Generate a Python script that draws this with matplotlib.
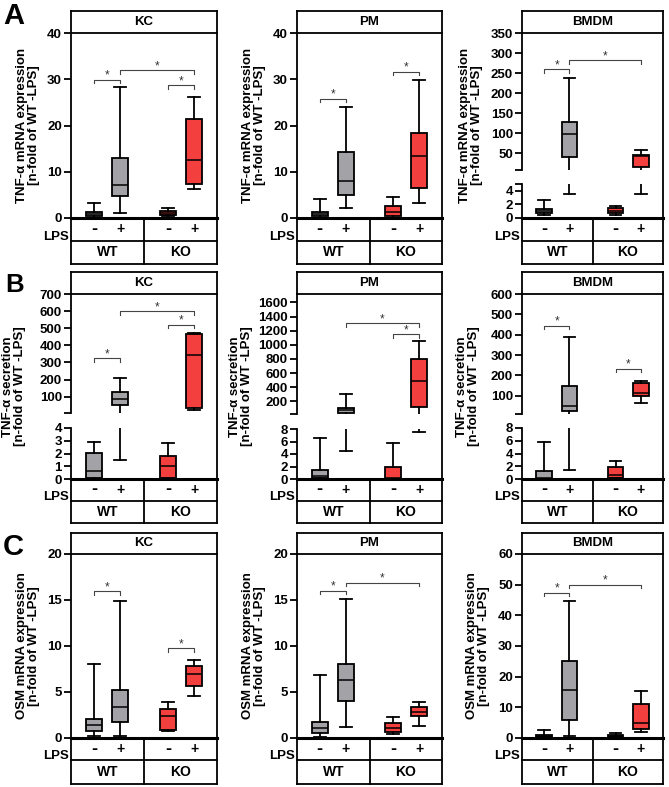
import matplotlib
matplotlib.use('Agg')  # headless
import matplotlib.pyplot as plt
from matplotlib.lines import Line2D

plt.rcParams['font.family'] = ['Liberation Sans', 'DejaVu Sans']
plt.rcParams['font.weight'] = 'bold'

# ---- values ----
# each row: whislo, q1, median, q3, whishi  for WT-, WT+, KO-, KO+
lps_signs = ['-', '+', '-', '+']
genotypes = ['WT', 'KO']

tnf_mrna_kc = [[0.1, 0.4, 0.9, 1.4, 3.3], [1.1, 4.8, 7.2, 13.0, 28.3],
               [0.5, 0.7, 1.1, 1.5, 2.2], [6.3, 7.4, 12.5, 21.3, 26.2]]
tnf_mrna_pm = [[0.1, 0.4, 0.9, 1.4, 4.2], [2.1, 5.0, 8.1, 14.2, 24.0],
               [0.1, 0.4, 1.2, 2.5, 4.6], [3.2, 6.4, 13.3, 18.4, 29.8]]
tnf_mrna_bmdm = [[0.5, 0.7, 1.05, 1.3, 2.7], [3.5, 40.8, 96.7, 126.7, 238],
                 [0.4, 0.7, 1.1, 1.5, 1.7], [3.5, 14.2, 42.5, 45, 57.5]]

tnf_sec_kc = [[0.0, 0.1, 0.63, 2.05, 2.9], [1.5, 54, 86, 129, 207],
              [0.0, 0.05, 1.0, 1.83, 2.85], [23, 34, 343, 465, 473]]
tnf_sec_pm = [[0.0, 0.1, 0.5, 1.4, 6.5], [4.5, 40, 77, 110, 299],
              [0.0, 0.05, 0.1, 1.96, 5.7], [7.5, 115, 491, 798, 1049]]
tnf_sec_bmdm = [[0.0, 0.05, 0.2, 1.25, 5.85], [1.4, 25, 51, 148, 389],
                [0.1, 0.1, 0.63, 1.93, 2.87], [66, 100, 115, 164, 174]]

osm_mrna_kc = [[0.2, 0.75, 1.36, 2.08, 8.04], [0.2, 1.79, 3.34, 5.17, 14.9],
               [0.71, 0.82, 2.4, 3.19, 3.94], [4.53, 5.6, 6.96, 7.87, 8.47]]
osm_mrna_pm = [[0.14, 0.58, 1.09, 1.75, 6.9], [1.2, 4.04, 6.26, 8.0, 15.1],
               [0.4, 0.66, 1.1, 1.6, 2.25], [1.34, 2.36, 2.87, 3.35, 3.93]]
osm_mrna_bmdm = [[0.1, 0.3, 0.6, 0.9, 2.7], [0.65, 5.9, 15.8, 25.1, 44.6],
                 [0.2, 0.4, 0.7, 0.9, 1.6], [2.07, 2.96, 4.9, 11.0, 15.3]]

# significance brackets: (group a, group b, height)
sig_a_kc = [(0, 1, 29.9), (1, 3, 32.0), (2, 3, 28.7)]
sig_a_pm = [(0, 1, 25.8), (2, 3, 31.6)]
sig_a_bmdm = [(0, 1, 260), (1, 3, 282.5)]
sig_b_kc = [(0, 1, 325), (2, 3, 520), (1, 3, 600)]
sig_b_pm = [(1, 3, 1303), (2, 3, 1152)]
sig_b_bmdm = [(0, 1, 444), (2, 3, 233)]
sig_c_kc = [(0, 1, 15.95), (2, 3, 9.73)]
sig_c_pm = [(0, 1, 16.0), (1, 3, 16.9)]
sig_c_bmdm = [(0, 1, 47.3), (1, 3, 50)]

ylabel_a = 'TNF-α mRNA expression\n[n-fold of WT -LPS]'
ylabel_b = 'TNF-α secretion\n[n-fold of WT -LPS]'
ylabel_c = 'OSM mRNA expression\n[n-fold of WT -LPS]'

GRAY = '#a3a3a7'
RED = '#f3403e'
box_colors = [GRAY, GRAY, RED, RED]
positions = [-1.92, -0.92, 0.92, 1.92]
XLIM = (-2.8, 2.8)

W, H = 669, 787
fig = plt.figure(figsize=(W / 100, H / 100), dpi=100)


def fx(px):
    return px / W


def fy(py):
    return 1 - py / H


def line(xs, ys, lw=1.3):
    fig.add_artist(Line2D([fx(x) for x in xs], [fy(y) for y in ys], lw=lw,
                          color='black', transform=fig.transFigure,
                          solid_capstyle='projecting'))


def make_axes(L, R, top, bottom, ylim, ticks, end_ticks, zero_line):
    ax = fig.add_axes([fx(L), fy(bottom), (R - L) / W, (bottom - top) / H])
    ax.set_xlim(*XLIM)
    ax.set_ylim(*ylim)
    ax.set_xticks([])
    all_ticks = list(ticks) + list(end_ticks)
    ax.set_yticks(all_ticks)
    ax.set_yticklabels([str(t) for t in ticks] + [''] * len(end_ticks))
    ax.spines['top'].set_visible(False)
    ax.spines['right'].set_visible(False)
    ax.spines['left'].set_linewidth(1.3)
    if zero_line:
        ax.spines['bottom'].set_linewidth(2.2)
    else:
        ax.spines['bottom'].set_visible(False)
    ax.tick_params(axis='y', length=5, width=1.3, labelsize=9.5, pad=1.5)
    ax.patch.set_visible(False)
    return ax


def draw_boxes(ax, stats):
    low = ax.get_ylim()[0]
    keep = [k for k, s in enumerate(stats) if s[4] > low]  # skip groups lying below a broken segment
    bstats = [dict(whislo=stats[k][0], q1=stats[k][1], med=stats[k][2],
                   q3=stats[k][3], whishi=stats[k][4]) for k in keep]
    parts = ax.bxp(bstats, positions=[positions[k] for k in keep], widths=0.62,
                   capwidths=0.45, patch_artist=True, showfliers=False,
                   manage_ticks=False,
                   boxprops=dict(linewidth=1.3),
                   whiskerprops=dict(linewidth=1.3),
                   capprops=dict(linewidth=1.3),
                   medianprops=dict(color='black', linewidth=1.1))
    for patch, k in zip(parts['boxes'], keep):
        patch.set_facecolor(box_colors[k])


def draw_brackets(ax, brackets, height_px):
    y0, y1 = ax.get_ylim()
    drop = 3.5 / height_px * (y1 - y0)
    for i, j, y in brackets:
        xa, xb = positions[i], positions[j]
        ax.plot([xa, xa, xb, xb], [y - drop, y, y, y - drop], color='#444444',
                lw=0.8, clip_on=False)
        ax.text((xa + xb) / 2, y + drop * 0.3, '*', ha='center', va='baseline',
                fontsize=8.5, weight='normal', color='#333333')


def panel(L, R, rows, title, ylabel, label_off, segments, stats, brackets):
    T, P, Z, r1, r2 = rows
    axes = []
    for k, (top, bottom, ylim, ticks, end_ticks) in enumerate(segments):
        ax = make_axes(L, R, top, bottom, ylim, ticks, end_ticks,
                       zero_line=(k == len(segments) - 1))
        draw_boxes(ax, stats)
        axes.append(ax)
    draw_brackets(axes[0], brackets, segments[0][1] - segments[0][0])

    # table frame around the plot
    line([L, R], [T, T])
    line([L, R], [P, P])
    line([L, L], [T, P])
    line([R, R], [T, r2])
    line([L, L], [Z, r2])
    line([L, R], [r1, r1])
    line([L, R], [r2, r2])
    mid = (L + R) / 2
    line([mid, mid], [Z, r2])

    fig.text(fx(mid), fy((T + P) / 2), title, ha='center', va='center', fontsize=9.5)
    for pos, sign in zip(positions, lps_signs):
        px = L + (pos - XLIM[0]) / (XLIM[1] - XLIM[0]) * (R - L)
        fig.text(fx(px), fy((Z + r1) / 2), sign, ha='center', va='center',
                 fontsize=13 if sign == '-' else 10)
    fig.text(fx(L - 2), fy(r1 - 4), 'LPS', ha='right', va='center', fontsize=9.5)
    fig.text(fx((L + mid) / 2), fy((r1 + r2) / 2), genotypes[0], ha='center', va='center', fontsize=10)
    fig.text(fx((mid + R) / 2), fy((r1 + r2) / 2), genotypes[1], ha='center', va='center', fontsize=10)
    fig.text(fx(L - label_off), fy((P + Z) / 2), ylabel, rotation=90, ha='center',
             va='center', fontsize=9.5, linespacing=1.1)


cols = [(71, 217), (297, 442), (522, 663)]
row_a = (11, 33, 218, 241, 264)
row_b = (272, 294, 479, 501, 523)
row_c = (533, 554, 738, 760, 784)

# Row A: TNF-alpha mRNA
panel(*cols[0], row_a, 'KC', ylabel_a, 43,
      [(33, 218, (0, 40), range(0, 41, 10), [])], tnf_mrna_kc, sig_a_kc)
panel(*cols[1], row_a, 'PM', ylabel_a, 43,
      [(33, 218, (0, 40), range(0, 41, 10), [])], tnf_mrna_pm, sig_a_pm)
panel(*cols[2], row_a, 'BMDM', ylabel_a, 51,
      [(33, 170, (7.5, 350), range(50, 351, 50), [7.5]),
       (184, 218, (0, 5), [0, 2, 4], [5])], tnf_mrna_bmdm, sig_a_bmdm)

# Row B: TNF-alpha secretion
panel(*cols[0], row_b, 'KC', ylabel_b, 57,
      [(294, 413, (5, 700), range(100, 701, 100), [5]),
       (428, 479, (0, 4), range(0, 5), [])], tnf_sec_kc, sig_b_kc)
panel(*cols[1], row_b, 'PM', ylabel_b, 56,
      [(294, 414, (20, 1720), range(200, 1601, 200), [20]),
       (429, 479, (0, 8), range(0, 9, 2), [])], tnf_sec_pm, sig_b_pm)
panel(*cols[2], row_b, 'BMDM', ylabel_b, 54,
      [(294, 414, (10, 600), range(100, 601, 100), [10]),
       (428, 479, (0, 8), range(0, 9, 2), [])], tnf_sec_bmdm, sig_b_bmdm)

# Row C: OSM mRNA
panel(*cols[0], row_c, 'KC', ylabel_c, 43,
      [(554, 738, (0, 20), range(0, 21, 5), [])], osm_mrna_kc, sig_c_kc)
panel(*cols[1], row_c, 'PM', ylabel_c, 43,
      [(554, 738, (0, 20), range(0, 21, 5), [])], osm_mrna_pm, sig_c_pm)
panel(*cols[2], row_c, 'BMDM', ylabel_c, 44,
      [(554, 738, (0, 60), range(0, 61, 10), [])], osm_mrna_bmdm, sig_c_bmdm)

# panel letters
for letter, x, base, size in [('A', 3, 24, 21), ('B', 5, 292, 18.5), ('C', 3, 555, 21)]:
    fig.text(fx(x), fy(base), letter, ha='left', va='baseline', fontsize=size)

fig.savefig('out.png', dpi=100)
